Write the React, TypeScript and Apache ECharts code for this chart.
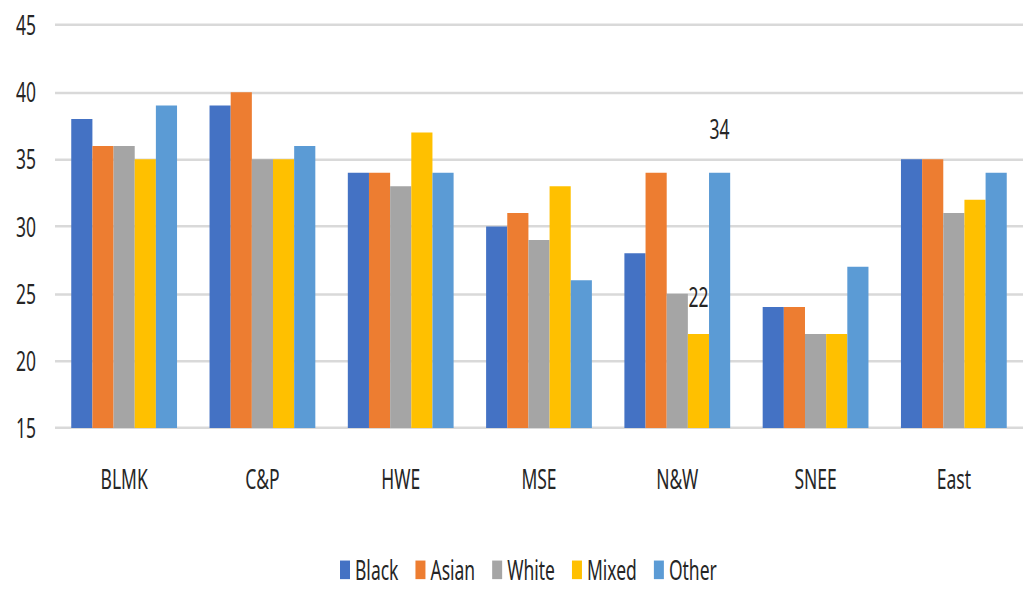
import React, { useEffect, useRef } from "react";
import * as echarts from "echarts";

const categories = ["BLMK", "C&P", "HWE", "MSE", "N&W", "SNEE", "East"];
const seriesNames = ["Black", "Asian", "White", "Mixed", "Other"];
const colors = ["#4472C4", "#ED7D31", "#A5A5A5", "#FFC000", "#5B9BD5"];

const black = [38, 39, 34, 30, 28, 24, 35];
const asian = [36, 40, 34, 31, 34, 24, 35];
const white = [36, 35, 33, 29, 25, 22, 31];
const mixed = [35, 35, 37, 33, 22, 22, 32];
const other = [39, 36, 34, 26, 34, 27, 34];

const allValues = [black, asian, white, mixed, other];

// Single values called out with a label: [series index, category index, gap above bar in page px]
const callouts: [number, number, number][] = [
  [3, 4, 37],
  [4, 4, 43],
];

// The chart is drawn in a shorter box and stretched vertically, giving the
// tall, narrow lettering of the original export.
const STRETCH = 1.55;
const W = 1023;
const H = 590 / STRETCH;

const FONT = "'Noto Sans', 'DejaVu Sans Condensed', sans-serif";
const TEXT = "#262626";
const FS = 17.5;

export default function App() {
  const ref = useRef<HTMLDivElement>(null);

  useEffect(() => {
    if (!ref.current) return;
    const chart = echarts.init(ref.current, undefined, { renderer: "svg" });

    const series = seriesNames.map((name, si) => ({
      name,
      type: "bar" as const,
      barGap: "0%",
      barCategoryGap: "23.5%",
      itemStyle: { color: colors[si] },
      data: allValues[si].map((v, ci) => {
        const c = callouts.find((x) => x[0] === si && x[1] === ci);
        if (!c) return v;
        return {
          value: v,
          label: {
            show: true,
            position: "top",
            distance: c[2] / STRETCH - FS / 2,
            fontFamily: FONT,
            fontSize: FS,
            color: TEXT,
          },
        };
      }),
    }));

    chart.setOption({
      animation: false,
      backgroundColor: "#ffffff",
      textStyle: { fontFamily: FONT },
      grid: {
        left: 55,
        top: 25 / STRETCH,
        width: 980,
        height: 403 / STRETCH,
        containLabel: false,
      },
      xAxis: {
        type: "category",
        data: categories,
        axisLine: { show: false },
        axisTick: { show: false },
        axisLabel: {
          margin: 40 / STRETCH - 0.125 * FS,
          fontFamily: FONT,
          fontSize: FS,
          color: TEXT,
        },
      },
      yAxis: {
        type: "value",
        min: 15,
        max: 45,
        interval: 5,
        axisLine: { show: false },
        axisTick: { show: false },
        axisLabel: {
          margin: 19,
          fontFamily: FONT,
          fontSize: FS,
          color: TEXT,
        },
        splitLine: { lineStyle: { color: "#d9d9d9", width: 1.6 } },
      },
      legend: {
        data: seriesNames,
        top: 571 / STRETCH - FS / 2 - 1,
        left: 340,
        padding: 0,
        icon: "rect",
        itemWidth: 10,
        itemHeight: 12,
        itemGap: 17,
        textStyle: {
          fontFamily: FONT,
          fontSize: FS,
          color: TEXT,
        },
      },
      series,
    });

    return () => chart.dispose();
  }, []);

  return (
    <div
      style={{
        position: "fixed",
        left: 0,
        top: 0,
        width: W,
        height: 590,
        overflow: "hidden",
        background: "#ffffff",
      }}
    >
      <div
        ref={ref}
        style={{
          width: W,
          height: H,
          transform: `scaleY(${STRETCH})`,
          transformOrigin: "0 0",
        }}
      />
    </div>
  );
}
